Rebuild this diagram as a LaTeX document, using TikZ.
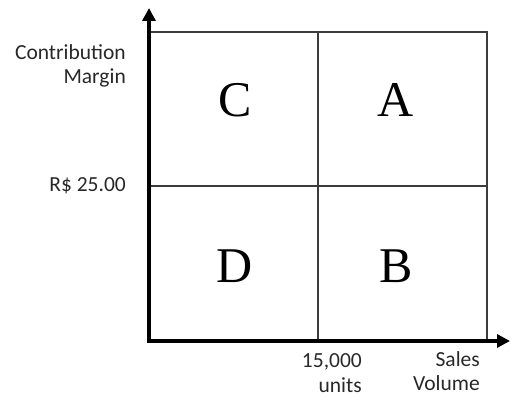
\documentclass[tikz,border=0pt]{standalone}
\usepackage{fontspec}
\setmainfont{Carlito}
\newfontfamily\quadfont{Liberation Serif}
\usetikzlibrary{positioning,calc}
\usetikzlibrary{arrows.meta}
\definecolor{GridGray}{RGB}{60,60,60}
\definecolor{LabelGray}{RGB}{40,40,40}
\tikzset{
  axis/.style={draw=black,line width=4pt,-{Triangle[width=13pt,length=13pt]}},
  grid/.style={draw=GridGray,line width=1.5pt},
  quad/.style={font=\quadfont\fontsize{50}{50}\selectfont,inner sep=0pt},
  lab/.style={font=\fontsize{21.5}{24.5}\selectfont,text=LabelGray,align=right,inner sep=0pt},
}

\begin{document}
\begin{tikzpicture}[x=1pt,y=1pt]
\useasboundingbox (0,0) rectangle (512,396);
\coordinate (O) at (149,55);
\coordinate (Top) at (149,388);
\coordinate (Right) at (510,55);
\coordinate (BoxNE) at (487,364);
\coordinate (MidS) at (318,55);
\coordinate (MidN) at (318,364);
\coordinate (MidW) at (149,210);
\coordinate (MidE) at (487,210);
% quadrant grid
\draw[grid] (O) rectangle (BoxNE);
\foreach \a/\b in {MidS/MidN,MidW/MidE}
  \draw[grid] (\a) -- (\b);
% axes
\draw[axis] ($(O)+(0,-2)$) -- (Top);
\draw[axis] ($(O)+(-2,0)$) -- (Right);
% quadrant letters
\foreach \name/\x/\y in {C/235/296,A/396/296,D/235/130,B/396/130}
  \node[quad] (\name) at (\x,\y) {\name};
% axis labels
\node[lab,anchor=east] (cm) at (126,330) {Contribution\\Margin};
\node[lab,anchor=east] (price) at (126,210) {R\$ 25.00};
\node[lab,anchor=east] (units) at (362,23) {15,000\\units};
\node[lab,anchor=east] (sales) at (480,25) {Sales\\Volume};
\end{tikzpicture}
\end{document}
